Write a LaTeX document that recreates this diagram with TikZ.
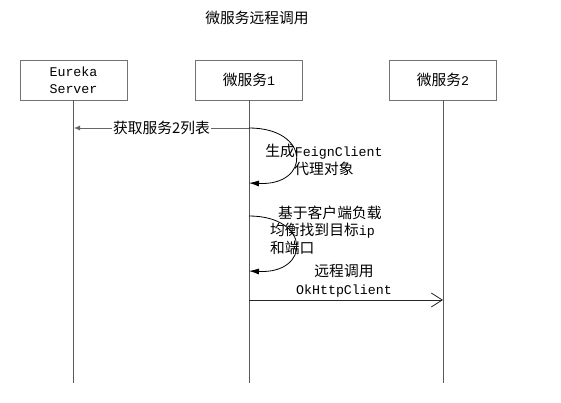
\documentclass[tikz,border=0pt]{standalone}
\usepackage{fontspec}
\setmainfont{Liberation Mono}
\newfontfamily\cjk[Scale=1.11]{Noto Sans CJK SC}
\usetikzlibrary{arrows.meta}
\begin{document}
\begin{tikzpicture}[x=1pt,y=-1pt,
  box/.style={draw=black!55, fill=white, line width=0.8pt, minimum width=107pt, minimum height=40pt, inner sep=0pt, align=center, font=\fontsize{13.3}{17}\selectfont},
  life/.style={draw=black!65, line width=0.8pt},
  lbl/.style={font=\fontsize{13.3}{17.5}\selectfont, inner sep=0pt},
  msg/.style={draw=black!85, line width=0.8pt},
  selfloop/.style={draw=black, line width=0.8pt, -{Latex[length=10pt,width=6pt]}},
]
\useasboundingbox[fill=white] (0,0) rectangle (561,403);

\node[lbl, font=\fontsize{13.3}{17}\selectfont] (title) at (257,18) {\cjk 微服务远程调用};

\node[box] (eureka) at (73.5,80) {Eureka\\Server};
\node[box] (ms1) at (249,80) {{\cjk 微服务}1};
\node[box] (ms2) at (443,80) {{\cjk 微服务}2};

\coordinate (e-end) at (73.5,383);
\coordinate (m1-end) at (249,383);
\coordinate (m2-end) at (443,383);
\draw[life] (eureka.south) -- (e-end);
\draw[life] (ms1.south) -- (m1-end);
\draw[life] (ms2.south) -- (m2-end);

% message 1: get service list
\coordinate (a1s) at (249,128);
\coordinate (a1e) at (74,128);
\draw[draw=black!60, line width=0.8pt, -{Latex[length=6pt,width=5pt]}] (a1s) -- (a1e);
\node[lbl, fill=white, inner xsep=1pt, inner ysep=2pt] (l1) at (161.5,128) {\cjk 获取服务2列表};

% self loop 1
\coordinate (s1a) at (249,128);
\coordinate (s1b) at (249,183);
\draw[selfloop] (s1a) .. controls (311,128) and (311,186) .. (s1b);
\node[lbl, align=center] (l2) at (324,160) {{\cjk 生成}FeignClient\\{\cjk 代理对象}};

% self loop 2
\coordinate (s2a) at (249,216);
\coordinate (s2b) at (249,271);
\draw[selfloop] (s2a) .. controls (311,216) and (311,274) .. (s2b);
\node[lbl, align=left, anchor=west] (l3) at (270,230) {\hspace{8pt}{\cjk 基于客户端负载}\\{\cjk 均衡找到目标}ip\\{\cjk 和端口}};

% message 3: remote call
\coordinate (a3s) at (249,300);
\coordinate (a3e) at (443,300);
\draw[msg, -{Straight Barb[length=11pt,width=14pt,line width=0.8pt]}] (a3s) -- (a3e);
\node[lbl, align=center] (l4) at (344,281) {{\cjk 远程调用}\\OkHttpClient};
\end{tikzpicture}
\end{document}
